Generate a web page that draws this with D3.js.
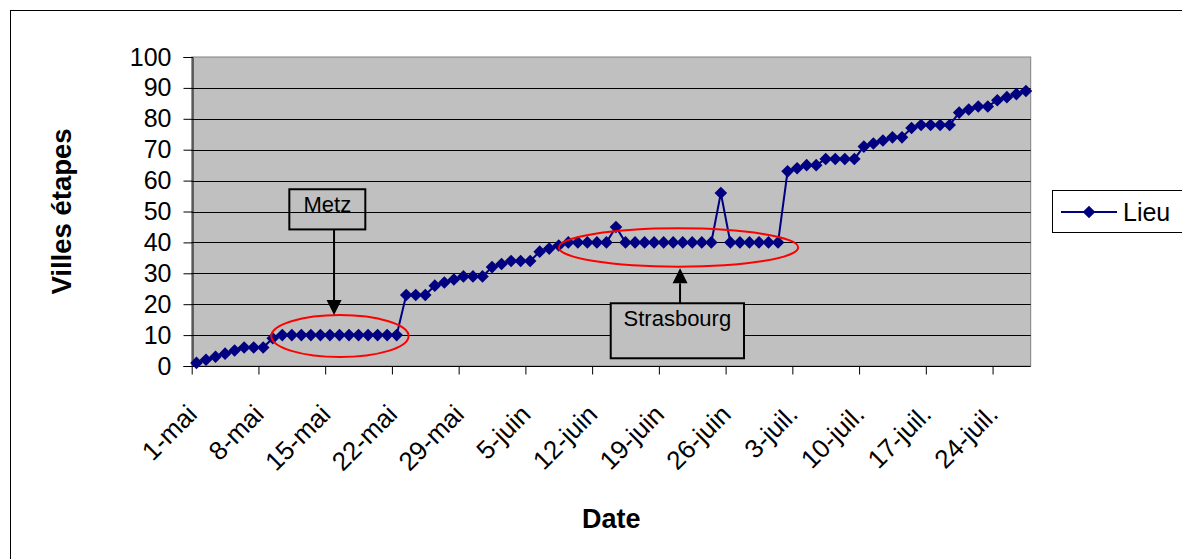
<!DOCTYPE html>
<html><head><meta charset="utf-8">
<script src="https://cdn.jsdelivr.net/npm/d3@7"></script>
<style>
body{margin:0;background:#fff}
svg{display:block}
text{font-family:Arial,"Liberation Sans",sans-serif;fill:#000}
</style>
</head><body>
<svg id="c" width="1182" height="559"></svg>
<script>
// ---- data ----
const startDate = "2000-05-01";
const dayCount = 88;
const values = [1,2,3,4,5,6,6,6,9,
  10,10,10,10,10,10,10,10,10,10,10,10,10,
  23,23,23,26,27,28,29,29,29,
  32,33,34,34,34,37,38,39,
  40,40,40,40,40,45,
  40,40,40,40,40,40,40,40,40,40,56,
  40,40,40,40,40,40,
  63,64,65,65,67,67,67,67,
  71,72,73,74,74,77,78,78,78,78,
  82,83,84,84,86,87,88,89];
const tickLabels = ["1-mai","8-mai","15-mai","22-mai","29-mai","5-juin","12-juin","19-juin","26-juin","3-juil.","10-juil.","17-juil.","24-juil."];
const yTicks = [0,10,20,30,40,50,60,70,80,90,100];
const seriesName = "Lieu";
const xTitle = "Date";
const yTitle = "Villes étapes";
const annotations = [
  {label:"Metz", box:[10.24,18.21,57.2,44.2], arrowDay:14.93, arrowTip:16.5, dir:"down", fill:"none",
   ellipse:{day:15.55, value:9.7, rd:7.2, rv:6.8}},
  {label:"Strasbourg", box:[43.95,57.93,20.3,2.5], arrowDay:51.22, arrowTip:31.6, dir:"up", fill:"#C0C0C0",
   ellipse:{day:51.06, value:38.35, rd:12.55, rv:6.2}}
];

// ---- setup ----
const parse = d3.timeParse("%Y-%m-%d");
const d0 = parse(startDate);
const data = values.map((v,i)=>({date:d3.timeDay.offset(d0,i), value:v}));
const tickDates = tickLabels.map((t,i)=>d3.timeDay.offset(d0,7*i));

const L=191.7, R=1030.7, T=57, B=366;
const x = d3.scaleTime().domain([d0, d3.timeDay.offset(d0,dayCount)]).range([L,R]);
const y = d3.scaleLinear().domain([0,100]).range([B,T]);
const dayPx = (R-L)/dayCount;
const xd = dd => L + dd*dayPx; // fractional day position
const xc = d => x(d3.timeHour.offset(d.date,12));

const svg = d3.select("#c");
// outer border
svg.append("rect").attr("x",10.5).attr("y",10.5).attr("width",1300).attr("height",1000)
  .attr("fill","#fff").attr("stroke","#000").attr("stroke-width",1);

// plot area
svg.append("rect").attr("x",L).attr("y",T).attr("width",R-L).attr("height",B-T)
  .attr("fill","#C0C0C0").attr("stroke","#808080").attr("stroke-width",1);

// gridlines
svg.append("g").selectAll("line").data(yTicks.filter(v=>v>0&&v<100)).join("line")
  .attr("x1",L).attr("x2",R).attr("y1",v=>Math.round(y(v))+0.5).attr("y2",v=>Math.round(y(v))+0.5)
  .attr("stroke","#000").attr("stroke-width",1);

// axes
const fs = 25;
const yAxis = d3.axisLeft(y).tickValues(yTicks).tickSize(9).tickPadding(12).tickFormat(d3.format("d"));
const gy = svg.append("g").attr("transform",`translate(${Math.round(L)+0.5},0)`).call(yAxis);
gy.selectAll("text").style("font-size",fs+"px");
gy.select(".domain").attr("stroke","#000");

const xAxis = d3.axisBottom(x).tickValues(tickDates).tickSize(8).tickFormat((d,i)=>tickLabels[i]);
const gx = svg.append("g").attr("transform",`translate(0,${B+0.5})`).call(xAxis);
gx.select(".domain").remove();
gx.append("line").attr("x1",L).attr("x2",R).attr("stroke","#000");
gx.selectAll(".tick text")
  .style("font-size","26px")
  .attr("text-anchor","end")
  .attr("y",0).attr("dy","0.35em")
  .attr("transform","translate(0,43) rotate(-45)");

// series
const line = d3.line().x(xc).y(d=>y(d.value));
svg.append("path").datum(data).attr("d",line).attr("fill","none")
  .attr("stroke","#000080").attr("stroke-width",2);
const diamond = "M0,-6.3L6.3,0L0,6.3L-6.3,0Z";
svg.append("g").selectAll("path").data(data).join("path")
  .attr("d",diamond).attr("transform",d=>`translate(${xc(d)},${y(d.value)})`)
  .attr("fill","#000080");

// annotations
annotations.forEach(a=>{
  const e=a.ellipse;
  svg.append("ellipse").attr("cx",xd(e.day)).attr("cy",y(e.value))
    .attr("rx",e.rd*dayPx).attr("ry",y(0)-y(e.rv))
    .attr("fill","none").attr("stroke","#FF0000").attr("stroke-width",2);
  const bx0=xd(a.box[0]), bx1=xd(a.box[1]), by0=y(a.box[2]), by1=y(a.box[3]);
  svg.append("rect").attr("x",bx0).attr("y",by0).attr("width",bx1-bx0).attr("height",by1-by0)
    .attr("fill",a.fill).attr("stroke","#000").attr("stroke-width",2);
  const ax=xd(a.arrowDay), tip=y(a.arrowTip);
  const start = a.dir==="down"? by1 : by0;
  const headLen=15, headW=7.5;
  const base = a.dir==="down"? tip-headLen : tip+headLen;
  svg.append("line").attr("x1",ax).attr("x2",ax).attr("y1",start).attr("y2",base)
    .attr("stroke","#000").attr("stroke-width",2);
  svg.append("path").attr("d",`M${ax},${tip}L${ax-headW},${base}L${ax+headW},${base}Z`).attr("fill","#000");
  svg.append("text").attr("x",(bx0+bx1)/2).attr("y",by0+15).attr("dy","0.35em")
    .attr("text-anchor","middle").style("font-size","22px").text(a.label);
});

// titles
svg.append("text").attr("x",(L+R)/2).attr("y",528).attr("text-anchor","middle")
  .style("font-size","27px").style("font-weight","bold").text(xTitle);
svg.append("text").attr("transform",`translate(71,${(T+B)/2}) rotate(-90)`).attr("text-anchor","middle")
  .style("font-size","27.5px").style("font-weight","bold").text(yTitle);

// legend
const lg = svg.append("g");
lg.append("rect").attr("x",1052.5).attr("y",190.5).attr("width",300).attr("height",42)
  .attr("fill","#fff").attr("stroke","#000");
lg.append("line").attr("x1",1061).attr("x2",1117).attr("y1",212).attr("y2",212)
  .attr("stroke","#000080").attr("stroke-width",2);
lg.append("path").attr("d",diamond).attr("transform","translate(1089,212)").attr("fill","#000080");
lg.append("text").attr("x",1123).attr("y",212).attr("dy","0.35em").style("font-size","25px").text(seriesName);
</script>
</body></html>
